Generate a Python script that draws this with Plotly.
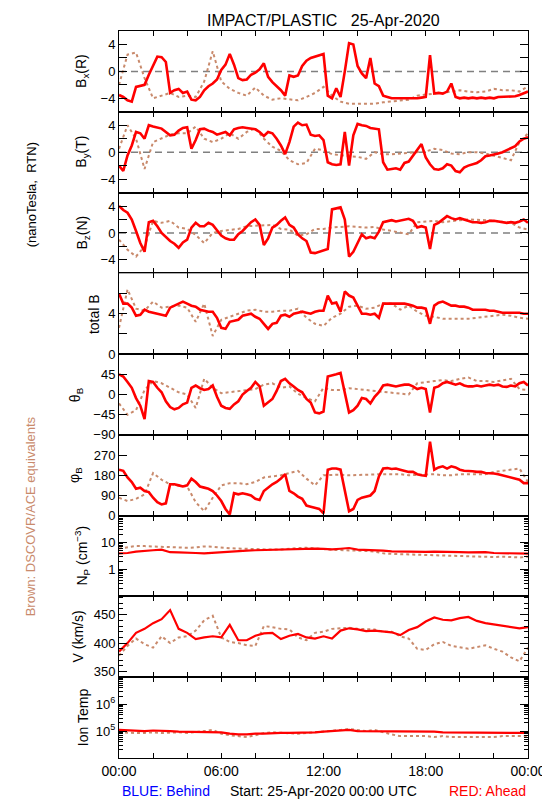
import plotly.graph_objects as go
from plotly.subplots import make_subplots

# ---- time grids (hours after 25-Apr-2020 00:00 UTC) ----
t_quarter = [i / 4 for i in range(97)]
t_half = [i / 2 for i in range(49)]

# ---- Bx(R) nT ----
bx_red = [-3.5, -3.8, -4.3, -4.5, -2.3, -2.2, -2.0, -0.5, 0.8, 2.2, 2.1, 1.4,
          -3.2, -2.8, -2.6, -3.2, -3.0, -4.2, -4.3, -3.8, -2.8, -2.2, -1.8, -1.2,
          0.2, 1.0, 2.6, 1.0, -1.0, -1.3, -1.2, -0.5, -0.2, 0.3, 1.2, -0.8,
          -1.6, -2.2, -2.8, -3.6, -0.6, -0.8, -0.6, 0.8, 1.6, 2.0, 2.2, 2.4,
          2.6, -3.6, -4.0, -2.5, -3.8, 0.0, 4.2, 4.0, 0.8, -0.3, -1.0, 2.0,
          -1.8, -2.2, -3.6, -3.8, -4.0, -4.0, -4.0, -4.1, -4.1, -4.0, -4.0, -3.9,
          -3.8, 2.4, -3.3, -3.2, -3.3, -3.0, -1.8, -3.8, -4.0, -3.9, -4.0, -3.9,
          -4.0, -3.9, -4.0, -3.9, -4.0, -3.8, -3.8, -3.7, -3.8, -3.7, -3.5, -3.2,
          -3.0]
bx_brown = [-2.0, 2.5, 2.8, -1.0, -4.0, -3.6, -3.2, -3.8, -3.6, -3.8,
            -1.5, 3.0, -1.5, -2.6, -3.2, -3.6, -2.4, -3.6, -4.2, -4.0,
            -4.1, -4.3, -3.8, -3.2, -2.3, -3.6, -4.5, -4.8, -4.8, -4.8,
            -4.8, -4.6, -4.5, -4.4, -4.2, -3.6, -3.4, -3.3, -3.2, -3.0,
            -2.8, -3.0, -3.1, -3.0, -2.6, -2.8, -2.8, -3.0, -2.2]

# ---- By(T) nT ----
by_red = [-2.0, -2.8, -0.5, 1.0, 3.0, 2.8, 2.0, 4.0, 3.8, 3.6, 3.5, 3.0,
          2.5, 2.6, 3.2, 3.6, 3.7, 0.5, 1.8, 3.4, 3.5, 3.2, 3.0, 2.6,
          2.8, 3.0, 2.5, 3.4, 3.6, 3.7, 3.6, 3.5, 3.4, 3.0, 2.4, 3.0,
          2.8, 2.0, 1.0, -0.3, 1.5, 3.8, 4.4, 4.0, 4.1, 2.6, 2.4, 2.5,
          1.8, -1.5, -1.8, -1.9, -1.8, 3.0, -2.0, 2.5, 4.2, 4.0, 3.9, 3.6,
          3.5, 3.4, -1.5, -2.6, -2.5, -2.4, -2.6, -1.6, -1.4, -0.5, 0.3, 1.2,
          -0.8, -1.8, -2.5, -2.6, -2.4, -1.8, -2.0, -2.8, -3.0, -2.3, -2.0, -1.8,
          -1.6, -1.2, -0.6, -0.5, -0.4, -0.2, 0.0, 0.3, 0.5, 0.9, 1.6, 2.0,
          2.2]
by_brown = [0.5, 4.0, 2.0, -2.5, 1.5, 2.0, 2.6, 2.8, 2.8, 3.8,
            2.0, 1.5, 2.0, 2.8, 2.0, 3.0, 3.6, 2.0, 0.8, 0.2,
            -1.2, -1.8, -1.6, 0.5, 0.3, -0.3, -0.5, -0.6, -0.7, -1.0,
            0.0, -0.3, -0.3, -0.2, 0.0, 0.0, 0.1, 0.5, 0.3, -0.2,
            -0.3, 0.0, 0.0, -0.2, -0.5, -0.9, -1.2, 1.5, 2.8]

# ---- Bz(N) nT ----
bz_red = [4.0, 3.4, 3.0, 2.0, 0.3, -1.5, -2.8, 1.6, 1.8, 1.0, 0.0, -0.6,
          -1.2, -1.6, -2.2, -1.4, -1.0, 0.8, 1.5, 1.0, 1.0, 1.5, 1.2, 0.4,
          -0.4, -0.8, -1.0, -1.0, -0.2, 0.3, 1.0, 1.6, 2.0, 1.2, -1.8, -0.8,
          0.8, 1.2, 1.8, 2.3, 1.2, 0.8, -0.2, -0.8, -1.2, -2.9, -3.0, -2.8,
          -2.6, -2.4, 3.5, 3.7, 3.8, 2.0, -3.5, -2.8, -1.5, -0.2, -0.8, -0.6,
          -0.8, 0.2, 1.6, 1.8, 1.9, 1.7, 1.8, 2.0, 2.1, 1.8, 0.8, 1.0,
          0.8, -2.4, 1.2, 1.5, 2.0, 2.5, 2.2, 2.0, 2.2, 2.0, 1.8, 1.6,
          1.6, 1.5, 1.6, 1.8, 1.8, 1.7, 1.6, 1.5, 1.6, 1.5, 1.7, 2.0,
          1.5]
bz_brown = [-1.0, -2.5, -3.5, -2.0, 1.8, 1.5, 1.8, 0.8, 0.6, -0.3,
            -1.5, 0.0, 0.3, 0.5, 0.6, 1.0, 1.1, 1.2, 1.2, 0.6,
            0.5, -0.4, -0.2, 0.6, 0.6, 0.8, 0.9, 1.0, 0.9, 0.8,
            0.9, 0.5, 0.3, 0.1, -0.2, 1.6, 1.7, 1.8, 1.6, 1.8,
            1.9, 2.0, 2.0, 1.9, 1.8, 1.6, 1.5, 0.8, 0.5]

# ---- total B nT ----
btot_red = [6.0, 5.0, 5.0, 4.6, 3.8, 3.9, 4.4, 4.2, 4.1, 4.0, 3.9, 3.8,
            4.6, 4.8, 5.0, 5.2, 5.0, 4.8, 4.7, 4.4, 4.3, 4.2, 4.2, 3.6,
            2.6, 2.5, 3.2, 3.3, 3.4, 3.8, 3.9, 4.0, 3.7, 3.5, 3.0, 2.5,
            3.0, 3.1, 3.8, 3.9, 3.7, 4.0, 4.1, 4.2, 4.1, 4.0, 4.2, 4.3,
            4.3, 5.8, 5.0, 5.1, 4.2, 6.2, 5.8, 5.6, 4.8, 4.0, 4.0, 3.9,
            4.0, 3.6, 5.0, 5.0, 5.0, 5.0, 5.0, 5.0, 4.9, 4.8, 4.6, 4.6,
            4.5, 3.0, 4.8, 5.1, 5.2, 5.0, 4.8, 4.8, 4.7, 4.7, 4.6, 4.4,
            4.4, 4.4, 4.4, 4.3, 4.3, 4.2, 4.1, 4.1, 4.1, 4.1, 4.1, 4.0,
            4.0]
btot_brown = [2.6, 6.4, 4.5, 4.3, 5.2, 4.6, 4.7, 4.8, 4.6, 3.2,
              5.0, 1.8, 3.4, 3.7, 4.0, 4.3, 4.4, 4.2, 4.2, 4.3,
              4.3, 4.5, 3.6, 3.0, 2.8, 3.6, 4.0, 4.7, 4.8, 4.5,
              4.6, 5.0, 5.0, 4.4, 4.8, 4.2, 3.8, 3.7, 3.5, 3.5,
              3.5, 3.5, 3.6, 3.7, 3.8, 3.9, 3.8, 3.6, 3.5]

# ---- theta_B deg ----
theta_red = [45, 40, 28, 15, -8, -25, -55, 30, 28, 15, 5, -15,
             -28, -33, -30, -22, -18, 15, 20, 14, 10, 12, 20, -5,
             -25, -30, -32, -22, -15, 0, 8, 15, 28, 18, -25, -18,
             -10, 8, 30, 35, 25, 18, 10, 5, -10, -18, -40, -42,
             -38, 40, 42, 45, 48, 0, -40, -35, -25, -8, -10, -20,
             -5, 5, 20, 22, 20, 18, 20, 22, 22, 18, 12, 15,
             12, -40, 15, 18, 25, 28, 25, 22, 25, 20, 18, 18,
             20, 18, 20, 22, 20, 22, 18, 17, 20, 18, 25, 28,
             20]
theta_brown = [-20, -45, -35, 10, 30, 25, 15, 5, 0, -30,
               35, 15, 3, 5, 8, 10, 12, 22, 25, 15,
               18, 2, -8, -15, 15, 10, 10, 14, 12, 10,
               8, 5, 3, 2, 0, 25, 28, 30, 32, 30,
               35, 38, 30, 30, 28, 32, 35, 12, 10]

# ---- phi_B deg ----
phi_red = [205, 200, 170, 150, 120, 125, 110, 105, 80, 60, 50, 55,
           140, 140, 135, 130, 135, 165, 150, 130, 125, 120, 110, 90,
           65, 30, 5, 100, 95, 100, 95, 90, 75, 70, 110, 125,
           140, 150, 165, 185, 110, 100, 85, 75, 45, 40, 35, 30,
           10, 205, 210, 210, 205, 120, 20, 30, 70, 80, 85, 90,
           110, 175, 210, 212, 208, 210, 205, 200, 195, 195, 185, 180,
           178, 330, 205, 215, 220, 210, 220, 215, 205, 200, 200, 198,
           195, 195, 190, 190, 188, 185, 180, 178, 172, 168, 160, 145,
           145]
phi_brown = [80, 65, 75, 95, 190, 160, 140, 135, 130, 60,
             20, 80, 135, 145, 145, 140, 150, 170, 175, 180,
             190, 200, 165, 135, 180, 182, 183, 180, 182, 183,
             185, 185, 185, 185, 180, 182, 185, 185, 180, 180,
             185, 185, 182, 185, 195, 200, 205, 210, 150]

# ---- proton density cm^-3 ----
np_red = [4.0, 4.1, 4.6, 5.0, 5.2, 5.5, 4.4, 4.3, 4.3, 4.1,
          4.0, 4.2, 4.6, 4.8, 4.8, 5.0, 5.2, 5.3, 5.4, 5.4,
          5.8, 5.9, 5.7, 6.0, 5.8, 5.6, 5.9, 6.3, 5.5, 5.4,
          5.2, 5.0, 4.7, 4.6, 4.6, 4.5, 4.5, 4.6, 4.6, 4.5,
          4.4, 4.3, 4.4, 4.4, 4.1, 4.0, 4.0, 3.9, 3.9]
np_brown = [6.0, 6.8, 7.5, 7.4, 7.2, 6.8, 6.6, 6.5, 6.4, 6.6,
            7.2, 7.0, 6.8, 6.2, 6.0, 5.8, 5.6, 5.5, 5.5, 5.6,
            6.0, 6.3, 6.4, 6.2, 5.8, 5.4, 5.3, 5.2, 5.0, 4.9,
            4.6, 4.0, 3.8, 3.7, 3.6, 3.6, 3.5, 3.4, 3.3, 3.2,
            3.1, 3.0, 2.9, 2.8, 2.9, 3.0, 2.9, 2.8, 3.0]

# ---- speed km/s ----
v_red = [385, 400, 418, 425, 435, 442, 458, 425, 418, 407,
         410, 412, 410, 432, 405, 405, 413, 417, 418, 407,
         413, 416, 410, 408, 412, 408, 422, 426, 424, 421,
         422, 420, 419, 414, 423, 428, 438, 445, 441, 440,
         444, 446, 439, 435, 433, 430, 429, 426, 428]
v_brown = [378, 395, 408, 398, 392, 412, 400, 410, 412, 422,
           440, 448, 410, 402, 400, 396, 395, 430, 428, 425,
           424, 410, 405, 418, 420, 425, 426, 427, 425, 424,
           424, 420, 420, 412, 408, 390, 388, 398, 402, 395,
           392, 390, 393, 396, 390, 385, 375, 368, 392]

# ---- ion temperature K ----
temp_red = [110000, 105000, 105000, 100000, 105000, 105000, 100000, 95000, 95000, 95000,
            95000, 95000, 90000, 80000, 75000, 75000, 80000, 80000, 85000, 85000,
            85000, 85000, 90000, 90000, 95000, 100000, 100000, 110000, 100000, 100000,
            95000, 95000, 95000, 95000, 100000, 100000, 95000, 95000, 90000, 90000,
            85000, 85000, 85000, 90000, 90000, 90000, 90000, 85000, 85000]
temp_brown = [90000, 85000, 85000, 85000, 90000, 85000, 90000, 90000, 85000, 90000,
              100000, 110000, 80000, 70000, 65000, 60000, 70000, 85000, 90000, 85000,
              85000, 80000, 85000, 90000, 95000, 100000, 110000, 120000, 110000, 100000,
              110000, 90000, 75000, 65000, 65000, 65000, 65000, 60000, 65000, 60000,
              60000, 60000, 60000, 60000, 60000, 65000, 65000, 65000, 65000]

# ---- axis labels ----
x_tickvals = [0, 6, 12, 18, 24]
x_ticktext = ["00:00", "06:00", "12:00", "18:00", "00:00"]
x_minorvals = [2, 4, 8, 10, 14, 16, 20, 22]
panel_titles = ["B<sub>x</sub>(R)", "B<sub>y</sub>(T)", "B<sub>z</sub>(N)", "total B",
                "θ<sub>B</sub>", "φ<sub>B</sub>", "N<sub>P</sub> (cm<sup>−3</sup>)",
                "V (km/s)", "Ion Temp"]

RED = "#ff0000"
BROWN = "#c98a6c"
FONT = "Liberation Sans, Arial, sans-serif"

W, H = 550, 800
L, R, T, B = 111, 24, 23, 50
PW, PH = W - L - R, H - T - B

def px_x(px):
    return (px - L) / PW

def px_y(py):
    return (H - B - py) / PH

fig = make_subplots(rows=9, cols=1, vertical_spacing=0)

panels = [
    (t_quarter, bx_red, bx_brown),
    (t_quarter, by_red, by_brown),
    (t_quarter, bz_red, bz_brown),
    (t_quarter, btot_red, btot_brown),
    (t_quarter, theta_red, theta_brown),
    (t_quarter, phi_red, phi_brown),
    (t_half, np_red, np_brown),
    (t_half, v_red, v_brown),
    (t_half, temp_red, temp_brown),
]

for i, (tr, red, brown) in enumerate(panels):
    r = i + 1
    fig.add_trace(go.Scatter(x=t_half, y=brown, mode="lines",
                             line=dict(color=BROWN, width=2, dash="dot"),
                             showlegend=False, hoverinfo="skip"), row=r, col=1)
    fig.add_trace(go.Scatter(x=tr, y=red, mode="lines",
                             line=dict(color=RED, width=2.6 if r <= 6 else 2.2),
                             showlegend=False, hoverinfo="skip"), row=r, col=1)

axis_common = dict(showline=True, linecolor="black", linewidth=1, mirror="ticks",
                   ticks="inside", tickcolor="black", showgrid=False, zeroline=False)

for r in range(1, 10):
    fig.update_xaxes(row=r, col=1, range=[0, 24], tickmode="array",
                     tickvals=x_tickvals, ticktext=x_ticktext,
                     showticklabels=(r == 9), ticklen=5,
                     minor=dict(tickmode="array", tickvals=x_minorvals, ticks="inside",
                                ticklen=5, tickcolor="black"),
                     tickfont=dict(family=FONT, size=14, color="black"),
                     **axis_common)

yfont = dict(family=FONT, size=13, color="black")

def minor_at(vals, length=8):
    return dict(tickmode="array", tickvals=vals, ticks="inside", ticklen=length,
                tickcolor="black")

for r in (1, 2, 3):
    fig.update_yaxes(row=r, col=1, range=[-6, 6], tickmode="array",
                     tickvals=[-4, 0, 4], ticktext=["−4", "0", "4"],
                     minor=minor_at([-2, 2]), ticklen=8, tickfont=yfont, **axis_common)
fig.update_yaxes(row=4, col=1, range=[0, 8], tickmode="array", tickvals=[0, 4],
                 ticktext=["0", "4"], minor=minor_at([2, 6]),
                 ticklen=8, tickfont=yfont, **axis_common)
fig.update_yaxes(row=5, col=1, range=[-90, 90], tickmode="array",
                 tickvals=[-90, -45, 0, 45], ticktext=["−90", "−45", "0", "45"],
                 ticklen=8, tickfont=yfont, **axis_common)
fig.update_yaxes(row=6, col=1, range=[0, 360], tickmode="array",
                 tickvals=[0, 90, 180, 270], ticktext=["0", "90", "180", "270"],
                 ticklen=8, tickfont=yfont, **axis_common)
np_minor = [m * 10 ** e for e in (-1, 0, 1) for m in range(2, 10)]
fig.update_yaxes(row=7, col=1, type="log", range=[-1, 2], tickmode="array",
                 tickvals=[1, 10], ticktext=["1", "10"],
                 ticklen=8, tickfont=yfont, minor=minor_at(np_minor, 4),
                 **axis_common)
fig.update_yaxes(row=8, col=1, range=[340, 482], tickmode="array",
                 tickvals=[350, 400, 450], ticktext=["350", "400", "450"],
                 ticklen=8, tickfont=yfont,
                 minor=dict(dtick=10, tick0=0, ticks="inside", ticklen=4, tickcolor="black"),
                 **axis_common)
t_minor = [m * 10 ** e for e in (4, 5, 6) for m in range(2, 10)]
fig.update_yaxes(row=9, col=1, type="log", range=[4, 7], tickmode="array",
                 tickvals=[1e5, 1e6], ticktext=["10<sup>5</sup>", "10<sup>6</sup>"],
                 ticklen=8, tickfont=yfont, minor=minor_at(t_minor, 4),
                 **axis_common)

# dashed zero lines in the field component panels
for r in (1, 2, 3):
    fig.add_hline(y=0, row=r, col=1, layer="below",
                  line=dict(color="#808080", width=1.5, dash="7px,5px"))

annotations = []
panel_h = PH / 9
title_x = [74, 74, 74, 85, 67, 67, 74, 69, 74]
for i, txt in enumerate(panel_titles):
    cy = T + panel_h * (i + 0.5)
    annotations.append(dict(text=txt, x=px_x(title_x[i]), y=px_y(cy), xref="paper",
                            yref="paper", textangle=-90, showarrow=False,
                            xanchor="center", yanchor="middle",
                            font=dict(family=FONT, size=14, color="black")))

annotations += [
    dict(text="IMPACT/PLASTIC   25-Apr-2020", x=px_x(318), y=px_y(12), xref="paper",
         yref="paper", showarrow=False, xanchor="center", yanchor="middle",
         font=dict(family=FONT, size=16, color="black")),
    dict(text="(nanoTesla,  RTN)", x=px_x(22), y=px_y(187), xref="paper", yref="paper",
         textangle=-90, showarrow=False, xanchor="center", yanchor="middle",
         font=dict(family=FONT, size=13, color="black")),
    dict(text="Brown: DSCOVR/ACE equivalents", x=px_x(21), y=px_y(508), xref="paper",
         yref="paper", textangle=-90, showarrow=False, xanchor="center", yanchor="middle",
         font=dict(family=FONT, size=13, color=BROWN)),
    dict(text="BLUE: Behind", x=px_x(112), y=px_y(783), xref="paper", yref="paper",
         showarrow=False, xanchor="left", yanchor="middle",
         font=dict(family=FONT, size=14, color="#0000ff")),
    dict(text="Start: 25-Apr-2020 00:00 UTC", x=px_x(319), y=px_y(783), xref="paper",
         yref="paper", showarrow=False, xanchor="center", yanchor="middle",
         font=dict(family=FONT, size=14, color="black")),
    dict(text="RED: Ahead", x=px_x(526), y=px_y(783), xref="paper", yref="paper",
         showarrow=False, xanchor="right", yanchor="middle",
         font=dict(family=FONT, size=14, color=RED)),
]

fig.update_layout(width=W, height=H, autosize=False,
                  margin=dict(l=L, r=R, t=T, b=B, pad=0),
                  paper_bgcolor="white", plot_bgcolor="white",
                  font=dict(family=FONT, color="black"),
                  annotations=annotations, showlegend=False)

fig.write_html("out.html")
